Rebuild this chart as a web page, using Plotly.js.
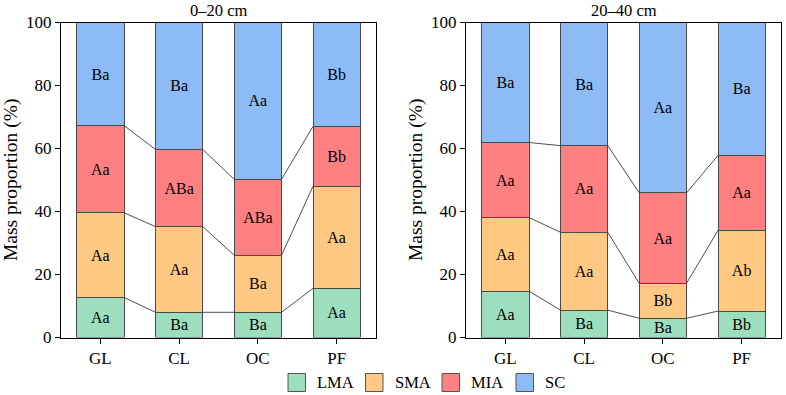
<!DOCTYPE html>
<html>
<head>
<meta charset="utf-8">
<script src="https://cdn.plot.ly/plotly-3.0.1.min.js"></script>
<style>
  html, body { margin: 0; padding: 0; background: #fff; }
  #chart { width: 786px; height: 395px; }
</style>
</head>
<body>
<div id="chart"></div>
<script>
// Land-use types
const categories = ['GL', 'CL', 'OC', 'PF'];
// Aggregate fractions (stacking order, bottom to top)
const fractions = ['LMA', 'SMA', 'MIA', 'SC'];
const fractionColors = ['#9DDEBF', '#FFC983', '#FF8080', '#8CBBF5'];
const depthTitles = ['0–20 cm', '20–40 cm'];

// Mass proportion (%) of each fraction, 0–20 cm
const top_LMA = [12.7, 8.0, 8.0, 15.6];
const top_SMA = [26.9, 27.2, 18.1, 32.4];
const top_MIA = [27.7, 24.5, 24.1, 19.0];
const top_SC  = [32.7, 40.3, 49.8, 33.0];
// Significance letters, 0–20 cm
const topLetters_LMA = ['Aa', 'Ba', 'Ba', 'Aa'];
const topLetters_SMA = ['Aa', 'Aa', 'Ba', 'Aa'];
const topLetters_MIA = ['Aa', 'ABa', 'ABa', 'Bb'];
const topLetters_SC  = ['Ba', 'Ba', 'Aa', 'Bb'];

// Mass proportion (%) of each fraction, 20–40 cm
const sub_LMA = [14.7, 8.7, 6.1, 8.4];
const sub_SMA = [23.4, 24.7, 11.1, 25.6];
const sub_MIA = [23.8, 27.5, 28.7, 23.8];
const sub_SC  = [38.1, 39.1, 54.1, 42.2];
// Significance letters, 20–40 cm
const subLetters_LMA = ['Aa', 'Ba', 'Ba', 'Bb'];
const subLetters_SMA = ['Aa', 'Aa', 'Bb', 'Ab'];
const subLetters_MIA = ['Aa', 'Aa', 'Aa', 'Aa'];
const subLetters_SC  = ['Ba', 'Ba', 'Aa', 'Ba'];

const panels = [
  { values: [top_LMA, top_SMA, top_MIA, top_SC],
    letters: [topLetters_LMA, topLetters_SMA, topLetters_MIA, topLetters_SC],
    xa: 'x', ya: 'y' },
  { values: [sub_LMA, sub_SMA, sub_MIA, sub_SC],
    letters: [subLetters_LMA, subLetters_SMA, subLetters_MIA, subLetters_SC],
    xa: 'x2', ya: 'y2' }
];

const FONT = "'Liberation Serif', 'Times New Roman', serif";
const BAR_W = 0.6;
const xIdx = categories.map((_, i) => i);

const traces = [];
panels.forEach(p => {
  // stacked bars
  p.values.forEach((vals, k) => {
    traces.push({
      type: 'bar',
      x: xIdx,
      y: vals,
      xaxis: p.xa, yaxis: p.ya,
      width: BAR_W,
      name: fractions[k],
      showlegend: false,
      marker: { color: fractionColors[k], line: { color: '#4a4a4a', width: 1 } },
      text: p.letters[k],
      textposition: 'inside',
      insidetextanchor: 'middle',
      textangle: 0,
      constraintext: 'none',
      textfont: { family: FONT, size: 16, color: '#000' },
      hoverinfo: 'skip'
    });
  });
  // connector lines between cumulative boundaries of neighbouring bars
  const cx = [], cy = [];
  let cum = categories.map(() => 0);
  for (let k = 0; k < fractions.length - 1; k++) {
    cum = cum.map((c, i) => c + p.values[k][i]);
    for (let i = 0; i < categories.length - 1; i++) {
      cx.push(i + BAR_W / 2, i + 1 - BAR_W / 2, null);
      cy.push(cum[i], cum[i + 1], null);
    }
  }
  traces.push({
    type: 'scatter', mode: 'lines',
    x: cx, y: cy, xaxis: p.xa, yaxis: p.ya,
    line: { color: '#3a3a3a', width: 0.9 },
    showlegend: false, hoverinfo: 'skip', connectgaps: false
  });
});

const W = 786, H = 395;
const xDomains = [[61 / W, 376 / W], [466 / W, 781 / W]];
const yDomain = [1 - 337.5 / H, 1 - 22.5 / H];

function xAxis(dom, anchor) {
  return {
    domain: dom, anchor: anchor,
    range: [-0.5, categories.length - 0.5],
    tickvals: xIdx, ticktext: categories,
    showline: true, mirror: true, linecolor: '#000', linewidth: 1,
    ticks: 'outside', ticklen: 5, tickcolor: '#000', tickwidth: 1,
    showgrid: false, zeroline: false,
    tickfont: { family: FONT, size: 17, color: '#000' }
  };
}
function yAxis(anchor) {
  return {
    domain: yDomain, anchor: anchor,
    range: [0, 100], dtick: 20,
    showline: true, mirror: true, linecolor: '#000', linewidth: 1,
    ticks: 'outside', ticklen: 5, tickcolor: '#000', tickwidth: 1,
    showgrid: false, zeroline: false,
    tickfont: { family: FONT, size: 17, color: '#000' }
  };
}

const annotations = [];
const shapes = [];
// panel titles and y-axis titles
depthTitles.forEach((t, j) => {
  const d = xDomains[j];
  annotations.push({
    xref: 'paper', yref: 'paper', x: (d[0] + d[1]) / 2, y: 1 - 10 / H,
    text: t, showarrow: false, xanchor: 'center', yanchor: 'middle',
    font: { family: FONT, size: 16.5, color: '#000' }
  });
  annotations.push({
    xref: 'paper', yref: 'paper', x: d[0] - 50 / W, y: (yDomain[0] + yDomain[1]) / 2,
    text: 'Mass proportion (%)', showarrow: false, textangle: -90,
    xanchor: 'center', yanchor: 'middle',
    font: { family: FONT, size: 19.5, color: '#000' }
  });
});

// legend row along the bottom
const legendX = [288, 365.5, 442, 516];
fractions.forEach((f, k) => {
  const x0 = legendX[k];
  shapes.push({
    type: 'rect', xref: 'paper', yref: 'paper',
    x0: x0 / W, x1: (x0 + 17.5) / W,
    y0: 1 - 391.5 / H, y1: 1 - 373.5 / H,
    fillcolor: fractionColors[k], line: { color: '#555', width: 1 }
  });
  annotations.push({
    xref: 'paper', yref: 'paper', x: (x0 + 27) / W, y: 1 - 382.5 / H,
    text: f, showarrow: false, xanchor: 'left', yanchor: 'middle',
    font: { family: FONT, size: 16.5, color: '#000' }
  });
});

const layout = {
  width: W, height: H,
  margin: { l: 0, r: 0, t: 0, b: 0 },
  paper_bgcolor: '#fff', plot_bgcolor: '#fff',
  barmode: 'stack',
  showlegend: false,
  font: { family: FONT, color: '#000' },
  xaxis: xAxis(xDomains[0], 'y'),
  yaxis: yAxis('x'),
  xaxis2: xAxis(xDomains[1], 'y2'),
  yaxis2: yAxis('x2'),
  annotations: annotations,
  shapes: shapes
};

Plotly.newPlot('chart', traces, layout, { displayModeBar: false, staticPlot: true });
</script>
</body>
</html>
